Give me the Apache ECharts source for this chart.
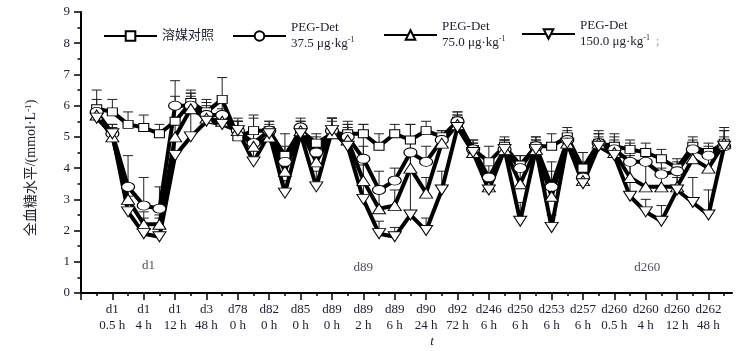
<!DOCTYPE html>
<html><head><meta charset="utf-8">
<script src="https://cdn.jsdelivr.net/npm/echarts@6/dist/echarts.min.js"></script>
<style>html,body{margin:0;padding:0;background:#fff}#c{width:752px;height:351px}</style>
</head><body><div id="c"></div>
<script>
// Tick labels at every other time point (positions 2,4,...,40)
const tickLabels = ['d1\n0.5 h','d1\n4 h','d1\n12 h','d3\n48 h','d78\n0 h','d82\n0 h','d85\n0 h','d89\n0 h','d89\n2 h','d89\n6 h',
  'd90\n24 h','d92\n72 h','d246\n6 h','d250\n6 h','d253\n6 h','d257\n6 h','d260\n0.5 h','d260\n4 h','d260\n12 h','d262\n48 h'];
const seriesNames = ['溶媒对照','PEG-Det 37.5','PEG-Det 75.0','PEG-Det 150.0'];
const doseLabels = ['', '37.5', '75.0', '150.0'];
// Means at time points 1..41
const ctrlMean = [5.9,5.8,5.4,5.3,5.1,5.5,6.1,5.8,6.2,5.0,5.2,5.2,4.4,5.2,4.8,5.1,5.1,5.1,4.7,5.1,4.9,5.2,5.0,5.5,4.6,4.2,4.7,4.1,4.7,4.7,5.0,4.0,4.8,4.7,4.6,4.5,4.3,4.0,4.7,4.5,4.8];
const ctrlSD   = [0.6,0.4,0.4,0.4,0.3,0.8,0.4,0.4,0.7,0.6,0.5,0.3,0.7,0.3,0.3,0.5,0.4,0.3,0.4,0.3,0.5,0.3,0.2,0.3,0.3,0.5,0.3,0.3,0.3,0.4,0.3,0.5,0.4,0.4,0.3,0.3,0.3,0.3,0.3,0.3,0.5];
const lowMean  = [5.8,5.1,3.4,2.8,2.7,6.0,6.0,5.7,5.7,5.2,4.8,5.2,4.2,5.3,4.5,5.2,5.0,4.3,3.3,3.6,4.5,4.2,4.9,5.5,4.6,3.7,4.6,4.0,4.7,3.4,4.9,3.7,4.8,4.6,4.2,4.2,3.8,3.9,4.6,4.4,4.7];
const lowSD    = [0.4,0.3,1.0,0.9,0.7,0.8,0.4,0.4,0.4,0.3,0.8,0.3,0.5,0.3,0.5,0.4,0.4,0.4,0.6,0.4,0.4,0.5,0.3,0.3,0.3,0.4,0.3,0.4,0.3,0.5,0.3,0.5,0.3,0.4,0.6,0.4,0.5,0.3,0.3,0.3,0.5];
const midMean  = [5.7,5.0,3.0,2.2,2.2,5.0,5.9,5.6,5.5,5.2,4.7,5.0,3.9,5.2,4.2,5.1,4.9,3.6,2.7,2.8,4.0,3.2,4.8,5.4,4.5,3.4,4.6,3.5,4.6,3.1,4.8,3.6,4.8,4.5,3.7,3.4,3.4,3.4,4.3,4.0,4.8];
const midSD    = [0.3,0.3,0.4,0.4,0.3,0.5,0.4,0.4,0.4,0.3,0.6,0.3,0.5,0.3,0.6,0.4,0.5,0.5,0.5,0.5,0.6,0.5,0.3,0.3,0.3,0.3,0.3,0.5,0.3,1.1,0.3,0.5,0.3,0.4,0.7,0.8,0.6,0.5,0.4,0.5,0.4];
const highMean = [5.6,5.1,2.6,1.9,1.8,4.4,5.0,5.5,5.4,5.2,4.2,5.1,3.2,5.1,3.4,5.2,4.7,3.0,1.9,1.8,2.5,2.0,3.3,5.3,4.5,3.3,4.6,2.3,4.6,2.1,4.8,3.5,4.7,4.4,3.1,2.6,2.3,3.3,2.9,2.5,4.7];
const highSD   = [0.3,0.3,0.5,0.5,0.6,0.5,1.4,0.4,0.3,0.3,0.5,0.3,0.4,0.3,0.5,0.4,0.6,2.4,0.4,0.3,2.9,0.4,0.6,0.4,0.3,0.3,0.3,0.6,0.3,0.4,0.2,0.4,0.3,0.4,1.2,0.4,0.5,0.4,0.8,0.8,0.3];
// Period annotations [x (time-point index), y (mmol/L), text]
const annotations = [[4.3,0.88,'d1'],[18.0,0.82,'d89'],[36.1,0.82,'d260']];

const FONT = "'Liberation Serif','Times New Roman','Noto Sans CJK SC',serif";
const TXT = '#1a1d2e';
const means = [ctrlMean, lowMean, midMean, highMean];
const sds = [ctrlSD, lowSD, midSD, highSD];
const symbols = ['rect','path://M0,4A6,4 0 1,0 12,4A6,4 0 1,0 0,4Z','triangle','path://M0,0L12,0L6,9Z'];
const symSizes = [[10,8],[13,9],[13,10],[13,10]];

const nPts = ctrlMean.length;
const allTicks = []; for (let k = 0; k <= nPts; k++) allTicks.push(k);
const oddTicks = allTicks.filter(k => k % 2 === 1);
const evenTicks = allTicks.filter(k => k % 2 === 0);
const labelTicks = tickLabels.map((_, i) => 2 * (i + 1));

function renderErr(params, api) {
  const x = api.value(0), y = api.value(1), s = api.value(2);
  const p0 = api.coord([x, y]), p1 = api.coord([x, y + s]);
  const hw = 5;
  return { type: 'group', children: [
    { type: 'line', shape: { x1: p0[0], y1: p0[1], x2: p1[0], y2: p1[1] }, style: { stroke: '#222', lineWidth: 1 } },
    { type: 'line', shape: { x1: p1[0] - hw, y1: p1[1], x2: p1[0] + hw, y2: p1[1] }, style: { stroke: '#222', lineWidth: 1 } }
  ]};
}

const series = [];
means.forEach((m, g) => {
  series.push({
    type: 'custom', silent: true, z: 1, renderItem: renderErr,
    encode: { x: 0, y: 1 },
    data: m.map((v, i) => [i + 1, v, sds[g][i]])
  });
});
means.forEach((m, g) => {
  series.push({
    name: seriesNames[g], type: 'line', z: 2,
    data: m.map((v, i) => [i + 1, v]),
    symbol: symbols[g], symbolSize: symSizes[g], showAllSymbol: true,
    lineStyle: { color: '#000', width: 4 },
    itemStyle: { color: '#fff', borderColor: '#000', borderWidth: 1 },
    emphasis: { disabled: true }
  });
});
series.push({
  type: 'scatter', silent: true, symbolSize: 0,
  data: annotations,
  label: { show: true, position: 'inside', formatter: p => p.data[2], color: TXT, fontFamily: FONT, fontSize: 13 }
});

const legendRich = { sup: { fontSize: 8, verticalAlign: 'top', lineHeight: 10, fontFamily: FONT, color: TXT }, semi: { color: '#999', fontFamily: FONT, fontSize: 12 } };
function legendText(name) {
  const g = seriesNames.indexOf(name);
  if (g === 0) return name;
  return 'PEG-Det\n' + doseLabels[g] + ' μg·kg{sup|-1}' + (g === 3 ? '{semi|  ;}' : '');
}
const legendPos = [[103, 28], [232, 20], [383, 19], [521, 18]];
const legends = seriesNames.map((n, g) => ({
  data: [n], left: legendPos[g][0], top: legendPos[g][1], padding: 0,
  itemWidth: 53, itemHeight: 12, selectedMode: false,
  formatter: legendText,
  textStyle: { fontFamily: FONT, fontSize: 13, lineHeight: 16, color: TXT, rich: legendRich }
}));

const chart = echarts.init(document.getElementById('c'));
chart.setOption({
  animation: false,
  backgroundColor: '#fff',
  grid: { left: 81, right: 20, top: 12, bottom: 58 },
  legend: legends,
  xAxis: [
    { type: 'value', min: 0, max: nPts + 0.5, position: 'bottom',
      axisLine: { show: true, lineStyle: { color: '#000', width: 2 } },
      axisTick: { show: true, length: 3, customValues: oddTicks, lineStyle: { color: '#000', width: 1.5 } },
      axisLabel: { show: false }, splitLine: { show: false } },
    { type: 'value', min: 0, max: nPts + 0.5, position: 'bottom',
      axisLine: { show: false },
      axisTick: { show: true, length: 7, customValues: evenTicks, lineStyle: { color: '#000', width: 1.5 } },
      axisLabel: { show: true, customValues: labelTicks, margin: 9, formatter: v => tickLabels[v / 2 - 1] || '',
        fontFamily: FONT, fontSize: 13, lineHeight: 16, color: TXT },
      splitLine: { show: false } }
  ],
  yAxis: {
    type: 'value', min: 0, max: 9, interval: 1,
    axisLine: { show: true, lineStyle: { color: '#000', width: 2 } },
    axisTick: { show: true, length: 7, lineStyle: { color: '#000', width: 1.5 } },
    minorTick: { show: true, splitNumber: 2, length: 3.5, lineStyle: { color: '#000', width: 1.5 } },
    axisLabel: { margin: 11, fontFamily: FONT, fontSize: 13, color: TXT },
    splitLine: { show: false }
  },
  graphic: [
    { type: 'text', x: 31, y: 168, rotation: Math.PI / 2,
      style: { text: '全血糖水平/(mmol·L{sup|-1})', align: 'center', verticalAlign: 'middle',
        fontFamily: FONT, fontSize: 14, fill: TXT,
        rich: { sup: { fontSize: 9, verticalAlign: 'top', lineHeight: 10, fontFamily: FONT, fill: TXT } } } },
    { type: 'text', x: 432, y: 342,
      style: { text: 't', align: 'center', verticalAlign: 'middle', fontFamily: FONT, fontStyle: 'italic', fontSize: 13, fill: TXT } }
  ],
  series: series
});
</script></body></html>
